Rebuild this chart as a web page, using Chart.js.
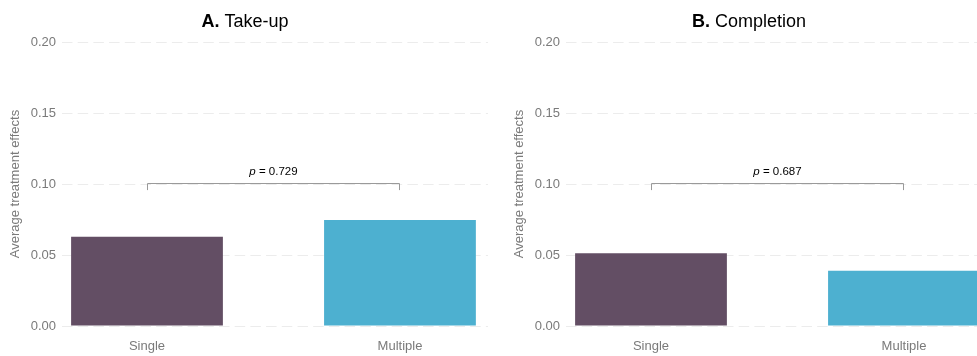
<!DOCTYPE html>
<html>
<head>
<meta charset="utf-8">
<script src="https://cdn.jsdelivr.net/npm/chart.js@4.4.1/dist/chart.umd.min.js"></script>
<style>
  html, body { margin: 0; padding: 0; background: #ffffff; }
  body { width: 977px; height: 356px; overflow: hidden; position: relative; }
  .panel { position: absolute; top: 0; width: 490px; height: 356px; }
  #panelA { left: 0; }
  #panelB { left: 504px; }
</style>
</head>
<body>
<div class="panel" id="panelA"><canvas id="chartA" width="490" height="356"></canvas></div>
<div class="panel" id="panelB"><canvas id="chartB" width="490" height="356"></canvas></div>
<script>
// Categories and estimated average treatment effects
const categories = ['Single', 'Multiple'];
const takeUpEffects = [0.0629, 0.0746];
const completionEffects = [0.0512, 0.0389];
const yTicks = [0.00, 0.05, 0.10, 0.15, 0.20];
const panelLetters = ['A.', 'B.'];
const panelTitles = ['Take-up', 'Completion'];
const pValues = ['0.729', '0.687'];
const bracketLevel = 0.10;
const bracketFoot = 0.0957;

const barColors = ['#634e64', '#4db0d0'];
const FONT = '"Liberation Sans", Arial, Helvetica, sans-serif';

// Panel title with bold letter and plain name, plus the comparison bracket
const annotations = {
  id: 'annotations',
  afterDraw(chart, args, opts) {
    const ctx = chart.ctx;
    const xs = chart.scales.x, ys = chart.scales.y;
    ctx.save();
    // title
    ctx.fillStyle = '#000000';
    ctx.textBaseline = 'alphabetic';
    ctx.font = 'bold 18px ' + FONT;
    const wL = ctx.measureText(opts.letter + ' ').width;
    ctx.font = '18px ' + FONT;
    const wT = ctx.measureText(opts.title).width;
    const x0 = chart.width / 2 - (wL + wT) / 2;
    ctx.font = 'bold 18px ' + FONT;
    ctx.textAlign = 'left';
    ctx.fillText(opts.letter + ' ', x0, 27);
    ctx.font = '18px ' + FONT;
    ctx.fillText(opts.title, x0 + wL, 27);

    // bracket between the two bars
    const xa = Math.round(xs.getPixelForValue(1)) + 0.5;
    const xb = Math.round(xs.getPixelForValue(2)) - 0.5;
    const yTop = Math.round(ys.getPixelForValue(bracketLevel)) - 0.5;
    const yFoot = ys.getPixelForValue(bracketFoot);
    ctx.strokeStyle = '#9a9a9a';
    ctx.lineWidth = 1;
    ctx.beginPath();
    ctx.moveTo(xa, yFoot);
    ctx.lineTo(xa, yTop);
    ctx.lineTo(xb, yTop);
    ctx.lineTo(xb, yFoot);
    ctx.stroke();

    // p-value label
    ctx.fillStyle = '#000000';
    const pPart = 'p';
    ctx.font = '11.5px ' + FONT;
    const rest = ' = ' + opts.p;
    const wRest = ctx.measureText(rest).width;
    ctx.font = 'italic 11.5px ' + FONT;
    const wP = ctx.measureText(pPart).width;
    const cx = (xa + xb) / 2;
    const sx = cx - (wP + wRest) / 2;
    const yText = yTop - 8.5;
    ctx.textAlign = 'left';
    ctx.fillText(pPart, sx, yText);
    ctx.font = '11.5px ' + FONT;
    ctx.fillText(rest, sx + wP, yText);
    ctx.restore();
  }
};

function makePanel(canvasId, values, idx) {
  const points = categories.map((c, i) => ({ x: i + 1, y: values[i] }));
  return new Chart(document.getElementById(canvasId), {
    type: 'bar',
    data: {
      datasets: [{
        data: points,
        backgroundColor: barColors,
        borderWidth: 0,
        barPercentage: 0.6,
        categoryPercentage: 1.0
      }]
    },
    plugins: [annotations],
    options: {
      responsive: false,
      animation: false,
      events: [],
      layout: { padding: { top: 42, right: 2, bottom: 0, left: 0 } },
      plugins: {
        legend: { display: false },
        title: { display: false },
        tooltip: { enabled: false },
        annotations: { letter: panelLetters[idx], title: panelTitles[idx], p: pValues[idx] }
      },
      scales: {
        x: {
          type: 'linear',
          offset: false,
          min: 0.664,
          max: 2.348,
          afterBuildTicks(scale) { scale.ticks = categories.map((c, i) => ({ value: i + 1 })); },
          afterFit(scale) { scale.height = 30; },
          grid: { display: false, drawTicks: false },
          border: { display: false },
          ticks: {
            padding: 13,
            color: '#7a7a7a',
            font: { family: FONT, size: 13 },
            callback: (v) => categories[Math.round(v) - 1] || ''
          }
        },
        y: {
          min: 0,
          max: 0.2,
          afterBuildTicks(scale) { scale.ticks = yTicks.map(v => ({ value: v })); },
          afterFit(scale) { scale.width = 62; },
          grid: { color: '#ececec', lineWidth: 1, drawTicks: false },
          border: { display: false, dash: [10.5, 5.2] },
          ticks: {
            padding: 6,
            color: '#7a7a7a',
            font: { family: FONT, size: 13 },
            callback: (v) => Number(v).toFixed(2)
          },
          title: {
            display: true,
            text: 'Average treatment effects',
            color: '#7a7a7a',
            font: { family: FONT, size: 13 },
            padding: { top: 8, bottom: 0 }
          }
        }
      }
    }
  });
}

makePanel('chartA', takeUpEffects, 0);
makePanel('chartB', completionEffects, 1);
</script>
</body>
</html>
